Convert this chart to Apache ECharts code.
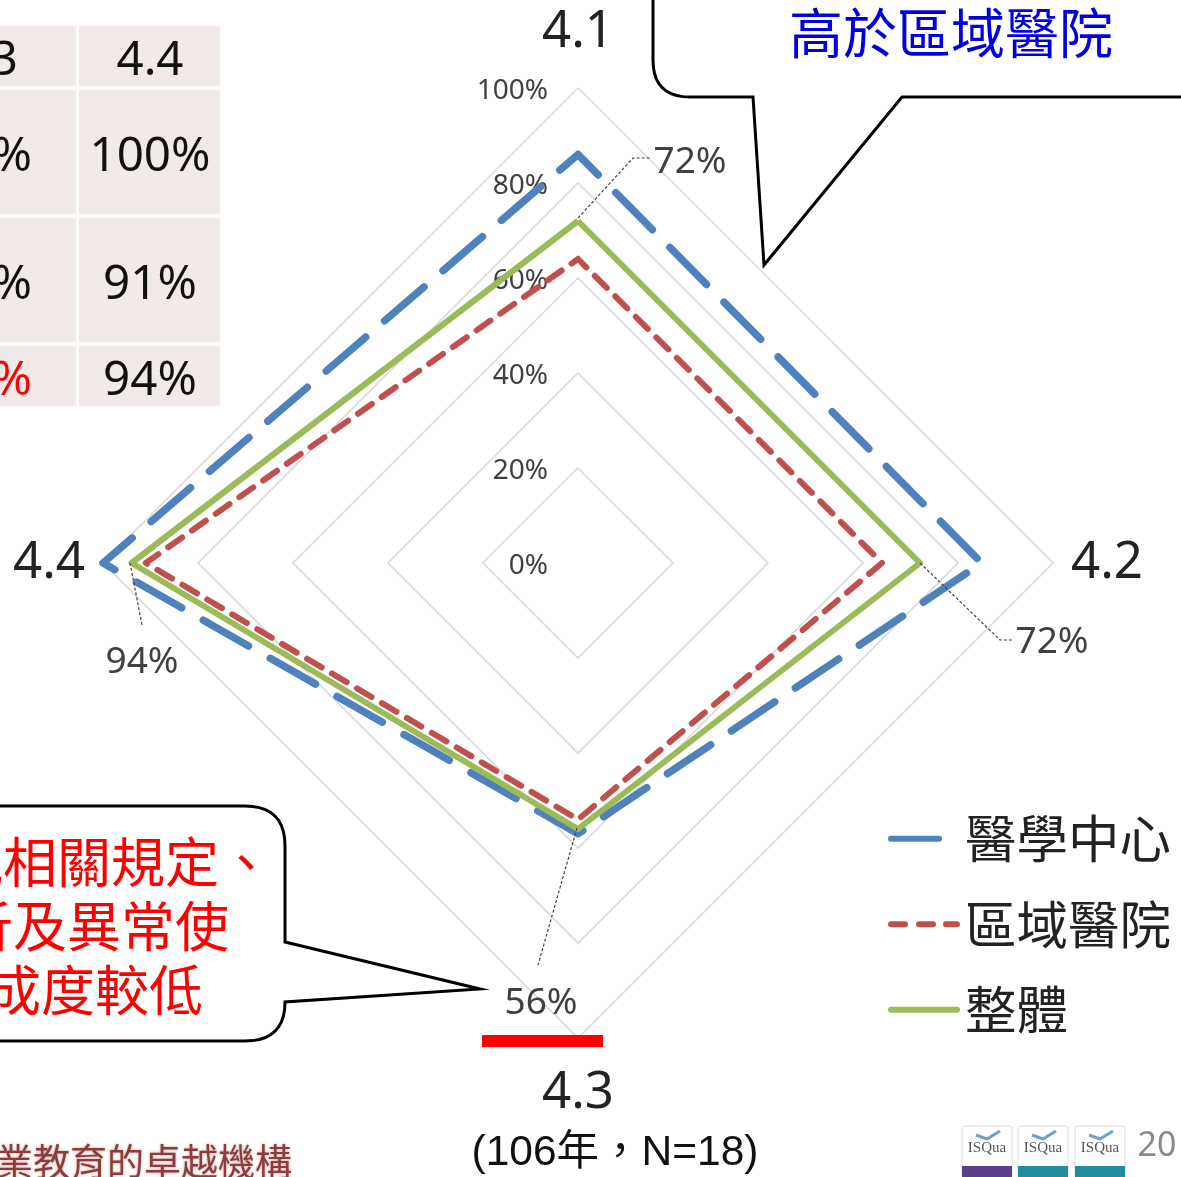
<!DOCTYPE html>
<html><head><meta charset="utf-8">
<style>html,body{margin:0;padding:0;background:#fff}#c{width:1181px;height:1177px}</style>
<script src="https://cdn.jsdelivr.net/npm/echarts@6/dist/echarts.min.js"></script>
</head><body><div id="c"></div>
<script>
const categories = ['4.1','4.2','4.3','4.4'];
const medicalCenter = [86,85,57,100];
const regionalHospital = [64,64,54,91];
const overall = [72,72,56,94];
const seriesNames = ['醫學中心','區域醫院','整體'];
const tableRows = [['4.3','4.4'],['57%','100%'],['54%','91%'],['56%','94%']];
const tickFmt = v => v + '%';
const CJK = '"Noto Sans CJK TC","Noto Sans",sans-serif';
const TXT = '"Noto Sans","Open Sans",sans-serif';

const order = [0,3,2,1];
const pick = a => order.map(i => a[i]);

const chart = echarts.init(document.getElementById('c'), null, {renderer:'canvas'});

function txt(x,y,text,size,color,align,font,extra){
  return {type:'text',x,y,z:30,silent:true,style:Object.assign({text,fill:color,font:`${size}px ${font||TXT}`,align:align||'center',verticalAlign:'middle'},extra||{})};
}
function leader(pts){
  return {type:'polyline',z:25,silent:true,shape:{points:pts},style:{stroke:'#444',lineWidth:1.2,lineDash:[3,2],fill:null}};
}
function corner(p0,c,p1){
  const out=[];
  for(let t=0;t<=1.0001;t+=0.1){
    const u=1-t;
    out.push([u*u*p0[0]+2*u*t*c[0]+t*t*p1[0],u*u*p0[1]+2*u*t*c[1]+t*t*p1[1]]);
  }
  return out;
}
const g = [];
const cols=[[-70,76],[79,220]], rows=[[26,86],[90,214],[218,342],[346,406]];
rows.forEach((r,ri)=>cols.forEach((c,ci)=>{
  g.push({type:'rect',z:1,silent:true,shape:{x:c[0],y:r[0],width:c[1]-c[0],height:r[1]-r[0]},style:{fill:'#f2e9e9'}});
  const color=(ri===3&&ci===0)?'#ff0000':'#111';
  const rx=ci===0?(ri===0?18:32):150;
  const cy=(r[0]+r[1])/2+5;
  g.push(txt(rx,cy,tableRows[ri][ci],47.5,color,ci===0?'right':'center'));
}));
const blueOutline=[[653,-6]].concat(corner([653,60],[653,97],[690,97]),[[753,97],[764,265],[902,97],[1190,97]]);
g.push({type:'polyline',z:20,silent:true,shape:{points:blueOutline},style:{fill:'#fff',stroke:'#000',lineWidth:3,lineJoin:'miter'}});
g.push(txt(951,33,'高於區域醫院',54,'#0000e0','center',CJK));
const redOutline=[[-6,806]].concat(corner([245,806],[285,806],[285,846]),[[285,942],[480,989],[285,1002]],corner([285,1002],[285,1041],[245,1041]),[[-6,1041]]);
g.push({type:'polyline',z:20,silent:true,shape:{points:redOutline},style:{fill:'#fff',stroke:'#000',lineWidth:3,lineJoin:'miter'}});
g.push(txt(273,862,'規相關規定、',54,'#ff0000','right',CJK));
g.push(txt(229,926,'析及異常使',54,'#ff0000','right',CJK));
g.push(txt(203,990,'成度較低',54,'#ff0000','right',CJK));
g.push({type:'rect',z:22,silent:true,shape:{x:482,y:1035,width:121,height:12},style:{fill:'#ff0000'}});
g.push(leader([[578,218],[633,158],[650,158]]));
g.push(leader([[920,563],[1000,640],[1012,640]]));
g.push(leader([[577,828],[538,965]]));
g.push(leader([[130,563],[142,625]]));
g.push(txt(690,162,overall[0]+'%',37,'#404040'));
g.push(txt(1052,642,overall[1]+'%',37,'#404040'));
g.push(txt(541,1003,overall[2]+'%',37,'#404040'));
g.push(txt(142,662,overall[3]+'%',37,'#404040'));
g.push(txt(615,1153,'(106年，N=18)',42.5,'#111','center','"Liberation Sans","Noto Sans CJK TC",sans-serif'));
g.push(txt(292,1162,'業教育的卓越機構',37,'#8e3b3b','right',CJK,{textShadowColor:'rgba(150,60,60,0.5)',textShadowBlur:3}));
g.push(txt(1157,1146,'20',34,'#8a8a8a'));
[[962,'#5b3f8c'],[1018,'#1f8f9e'],[1075,'#1f8f9e']].forEach(b=>{
  g.push({type:'rect',z:10,silent:true,shape:{x:b[0],y:1126,width:50,height:52,r:3},style:{fill:'#fff',stroke:'#ddd',lineWidth:1}});
  g.push({type:'polyline',z:11,silent:true,shape:{points:[[b[0]+14,1135],[b[0]+25,1139],[b[0]+38,1131]]},style:{stroke:'#6fa3c7',lineWidth:3,fill:null}});
  g.push({type:'rect',z:11,silent:true,shape:{x:b[0],y:1166,width:50,height:11},style:{fill:b[1]}});
  g.push(txt(b[0]+25,1148,'ISQua',15,'#555','center','"Liberation Serif",serif'));
});

const blueIcon='path://M3 0H51A3 3 0 0 1 51 6H3A3 3 0 0 1 3 0Z M72 3L72 3Z';
const redIcon='path://M3 0H17A3 3 0 0 1 17 6H3A3 3 0 0 1 3 0Z M31 0H45A3 3 0 0 1 45 6H31A3 3 0 0 1 31 0Z M58 0H69A3 3 0 0 1 69 6H58A3 3 0 0 1 58 0Z';
const greenIcon='path://M3 0H69A3 3 0 0 1 69 6H3A3 3 0 0 1 3 0Z';

chart.setOption({
  animation:false,
  backgroundColor:'#fff',
  legend:{
    orient:'vertical',left:883,top:808,itemWidth:72,itemHeight:7,itemGap:34,selectedMode:false,
    textStyle:{fontSize:51.5,color:'#222',fontFamily:CJK},
    data:[
      {name:seriesNames[0],icon:blueIcon},
      {name:seriesNames[1],icon:redIcon},
      {name:seriesNames[2],icon:greenIcon}
    ]
  },
  radar:{
    center:[578,563],radius:475,startAngle:90,splitNumber:5,shape:'polygon',
    axisName:{color:'#222',fontSize:51,fontFamily:TXT,padding:[12,0]},nameGap:18,
    axisLine:{show:false},axisTick:{show:false},
    splitArea:{show:false},
    splitLine:{lineStyle:{color:'#d9d9d9',width:1.6}},
    indicator:pick(categories).map((name,i)=>({name,min:0,max:100,
      axisLabel:{show:i===0,formatter:tickFmt,fontSize:28,color:'#404040',fontFamily:TXT,margin:30,verticalAlign:'top',lineHeight:6}}))
  },
  series:[{type:'radar',symbol:'none',silent:true,z:5,data:[
    {name:seriesNames[0],value:pick(medicalCenter),itemStyle:{color:'#4f81bd'},lineStyle:{color:'#4f81bd',width:7.5,type:[52,25],dashOffset:28,cap:'round',join:'round'}},
    {name:seriesNames[1],value:pick(regionalHospital),itemStyle:{color:'#c0504d'},lineStyle:{color:'#c0504d',width:6,type:[17,12],dashOffset:9,cap:'round',join:'round'}},
    {name:seriesNames[2],value:pick(overall),itemStyle:{color:'#9bbb59'},lineStyle:{color:'#9bbb59',width:6,type:'solid'}}
  ]}],
  graphic:{elements:g}
});
</script></body></html>
